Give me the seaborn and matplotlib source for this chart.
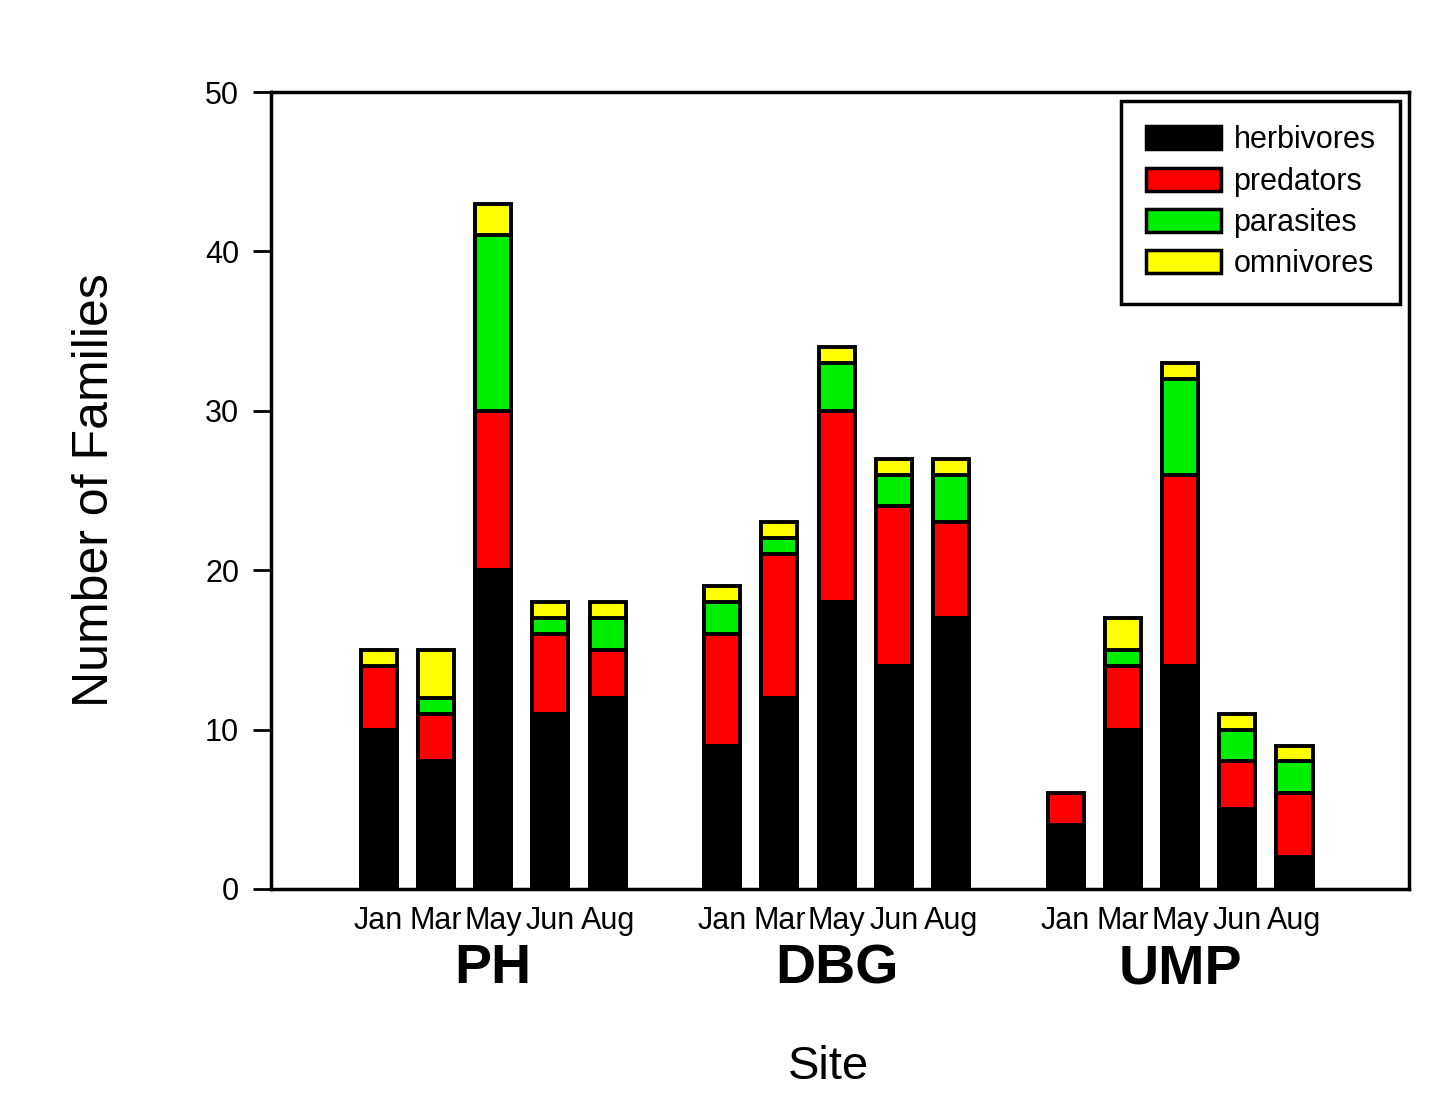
import numpy as np
import pandas as pd
import matplotlib
matplotlib.use("Agg")
import matplotlib.pyplot as plt
import seaborn as sns
from matplotlib.patches import Patch

sites = ["PH", "DBG", "UMP"]
months = ["Jan", "Mar", "May", "Jun", "Aug"]
series = ["herbivores", "predators", "parasites", "omnivores"]
colors = ["#000000", "#ff0000", "#00ee00", "#ffff00"]

herbivores = [10, 8, 20, 11, 12,   9, 12, 18, 14, 17,   4, 10, 14, 5, 2]
predators  = [4, 3, 10, 5, 3,      7, 9, 12, 10, 6,     2, 4, 12, 3, 4]
parasites  = [0, 1, 11, 1, 2,      2, 1, 3, 2, 3,       0, 1, 6, 2, 2]
omnivores  = [1, 3, 2, 1, 1,       1, 1, 1, 1, 1,       0, 2, 1, 1, 1]

plt.rcParams['font.family'] = ['Liberation Sans', 'DejaVu Sans']

# positions: 5 bars per site, one empty slot between sites
pos = []
for gi in range(len(sites)):
    for mi in range(len(months)):
        pos.append(gi * (len(months) + 1) + mi)

df = pd.DataFrame({
    "pos": pos,
    "site": np.repeat(sites, len(months)),
    "month": months * len(sites),
    "herbivores": herbivores,
    "predators": predators,
    "parasites": parasites,
    "omnivores": omnivores,
})
vals = df[series].to_numpy()
cum = np.cumsum(vals, axis=1)
for i, s in enumerate(series):
    df["cum_" + s] = cum[:, i]

fig = plt.figure(figsize=(14.49, 11.05), dpi=100)
ax = fig.add_axes([271/1449, 1 - 889/1105, (1409-271)/1449, (889-92)/1105])

for s, c in reversed(list(zip(series, colors))):
    sub = df[df[s] > 0] if s != "herbivores" else df
    sns.barplot(data=sub, x="pos", y="cum_" + s, native_scale=True, color=c,
                width=0.63, edgecolor="black", linewidth=2.8, errorbar=None,
                saturation=1, ax=ax)

ax.set_xlim(-1.88, 18.0)
ax.set_ylim(0, 50)
ax.set_yticks([0, 10, 20, 30, 40, 50])
ax.tick_params(axis="y", direction="out", length=13, width=2, labelsize=22, pad=10)
ax.set_xticks(df["pos"])
ax.set_xticklabels(df["month"], fontsize=22)
ax.tick_params(axis="x", length=0, pad=12)
for sp in ax.spines.values():
    sp.set_linewidth(2.5)
    sp.set_color("black")
ax.set_xlabel("")
ax.set_ylabel("")

for gi, site in enumerate(sites):
    center = gi * (len(months) + 1) + (len(months) - 1) / 2
    ax.text(center, -0.101, site, transform=ax.get_xaxis_transform(),
            ha="center", va="center", fontsize=40, fontweight="bold")

fig.text(828/1449, 1 - 1067/1105, "Site", ha="center", va="center", fontsize=34)
fig.text(95/1449, 1 - 490/1105, "Number of Families", ha="center", va="center",
         rotation=90, fontsize=36)

handles = [Patch(facecolor=c, edgecolor="black", linewidth=2.5, label=s)
           for s, c in zip(series, colors)]
leg = ax.legend(handles=handles, loc="upper right",
                bbox_to_anchor=(1 - 9/1138, 1 - 9/797), borderaxespad=0,
                fontsize=22, handlelength=2.45, handleheight=0.78,
                handletextpad=0.42, labelspacing=0.37, borderpad=0.8,
                fancybox=False, framealpha=1, edgecolor="black")
leg.get_frame().set_linewidth(2.5)

fig.savefig("out.png", dpi=100)
